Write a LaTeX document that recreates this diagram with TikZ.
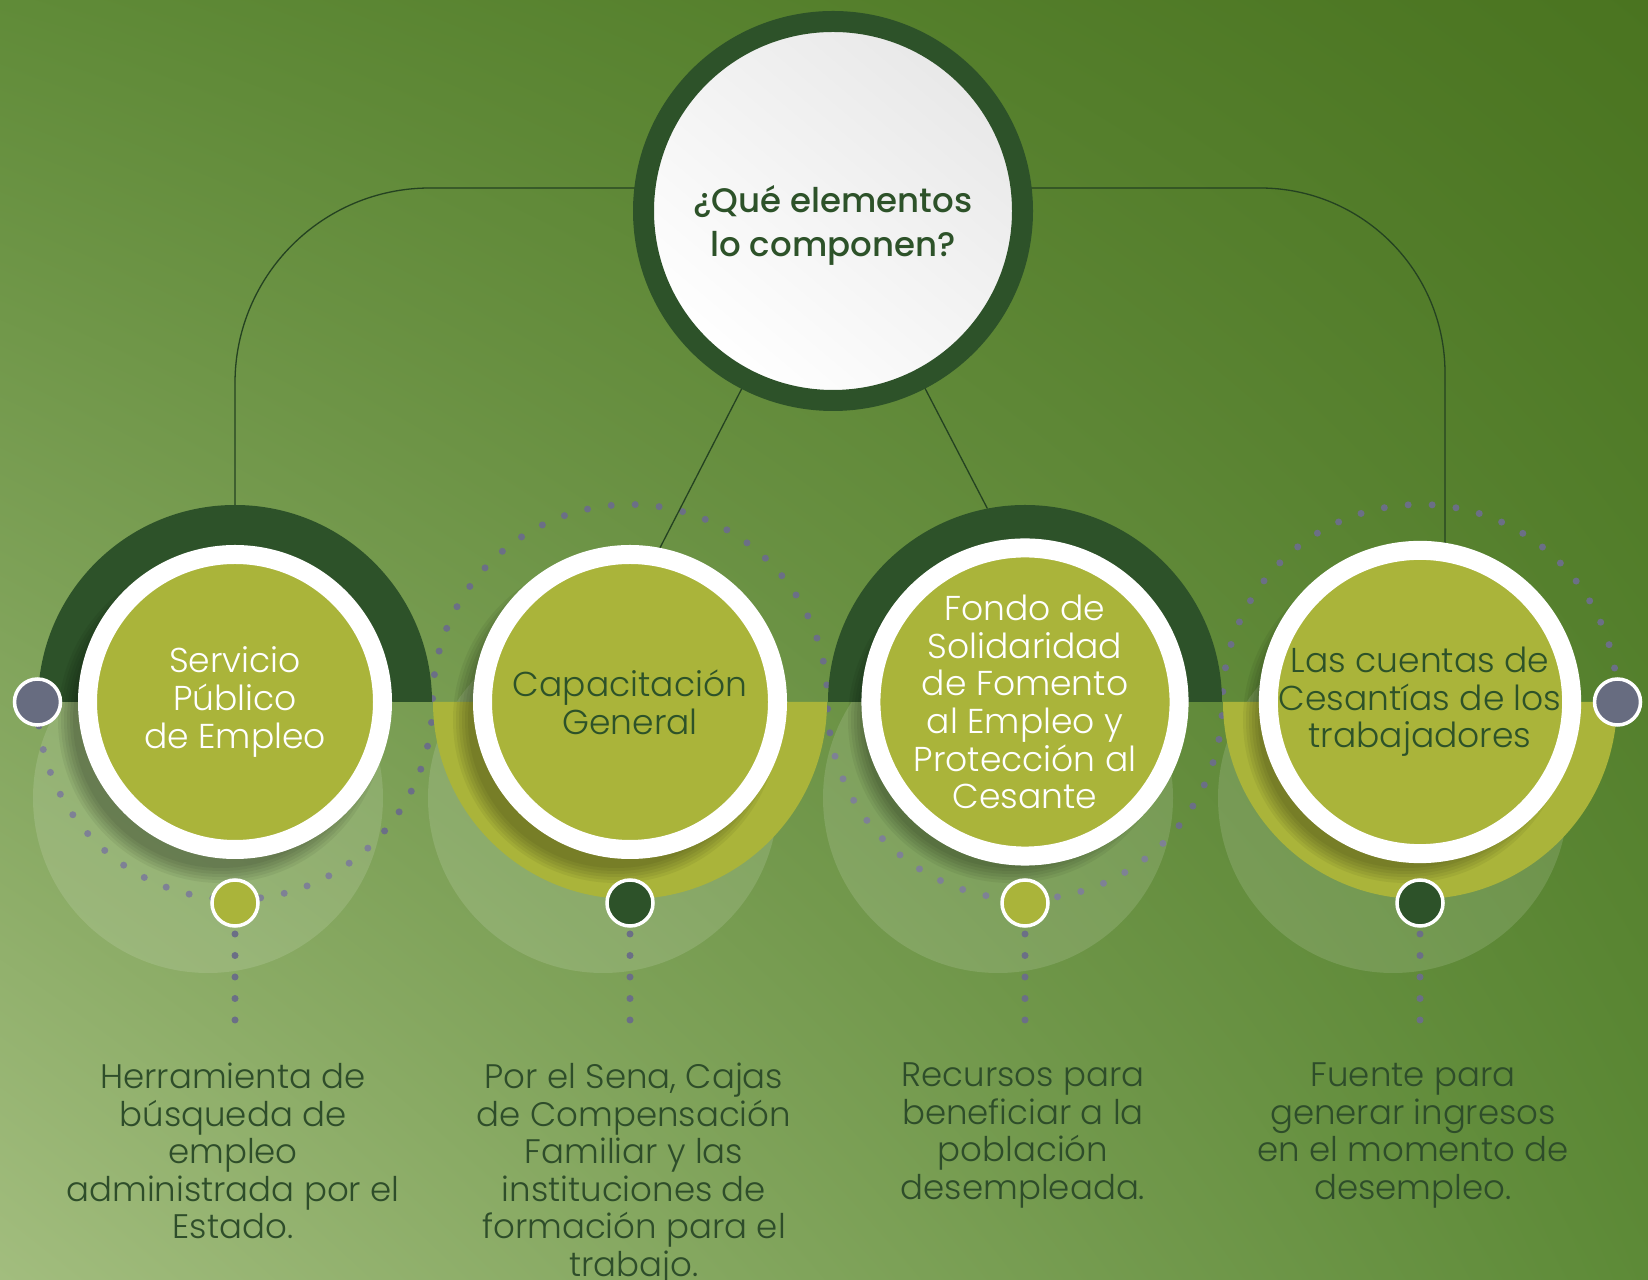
\documentclass[tikz,border=0pt]{standalone}
\usepackage{fontspec}
\setmainfont{Poppins}
\newfontfamily\lightf{Poppins Light}
\newfontfamily\medf{Poppins Medium}
\usetikzlibrary{calc,shadings}
\definecolor{oliveC}{HTML}{AAB43A}
\definecolor{dkg}{HTML}{2D5229}
\definecolor{dotc}{HTML}{6B6F86}
\definecolor{grayc}{HTML}{676C80}
\definecolor{txtc}{HTML}{2E4D2A}
\definecolor{bgUL}{HTML}{608B38}
\definecolor{bgUR}{HTML}{4A7420}
\definecolor{bgLL}{HTML}{A2BD7E}
\definecolor{bgLR}{HTML}{5D8A37}
\pgfdeclarelayer{bg}
\pgfdeclarelayer{lines}
\pgfsetlayers{bg,lines,main}
\begin{document}
\begin{tikzpicture}[x=1pt,y=1pt,
  conn/.style={draw=dkg!80!black, line width=1.3pt},
  dotline/.style={draw=dotc, line width=7pt, line cap=round, dash pattern=on 0pt off 24pt},
  vdots/.style={draw=dotc, line width=7pt, line cap=round, dash pattern=on 0pt off 21.5pt},
  bigc/.style={circle, fill=oliveC, draw=white, line width=19pt, minimum size=295pt, inner sep=0pt, align=center, font=\lightf\fontsize{34.5}{37.6}\selectfont},
  smallc/.style={circle, draw=white, line width=3.5pt, minimum size=46pt, inner sep=0pt},
  desc/.style={anchor=north, align=center, inner sep=0pt, text=txtc, font=\lightf\fontsize{34}{37.5}\selectfont},
  qnode/.style={circle, draw=dkg, line width=21pt, minimum size=379pt, inner sep=0pt, top color=black!9, bottom color=white, shading angle=-40}
]
\useasboundingbox (0,0) rectangle (1648,1279);
\begin{pgfonlayer}{bg}
\shade[upper left=bgUL, upper right=bgUR, lower left=bgLL, lower right=bgLR] (0,0) rectangle (1648,1279);
\end{pgfonlayer}

% translucent blobs
\foreach \cx in {235,630,1025,1420}{
  \fill[white, opacity=0.13] (\cx-27,481) circle[radius=175pt];
}
% dark upper arcs
\fill[dkg] (235-197,577) arc[start angle=180,end angle=0,radius=197pt] -- cycle;
\fill[dkg] (1025-197,577) arc[start angle=180,end angle=0,radius=197pt] -- cycle;
% olive lower half discs
\fill[oliveC] (630-197,577) arc[start angle=180,end angle=360,radius=197pt] -- cycle;
\fill[oliveC] (1420-197,577) arc[start angle=180,end angle=360,radius=197pt] -- cycle;
% shadows
\foreach \cx in {235,630,1025,1420}{
  \foreach \k in {0,...,5}{
    \fill[black, opacity=0.055] (\cx-14,559) circle[radius=148pt+\k*3pt];
  }
}

% top circle
\node[qnode] (q) at (833,1068) {};
\node[text=dkg, align=center, inner sep=0pt, font=\medf\fontsize{34}{44}\selectfont] (qt) at (833,1054) {¿Qué elementos\\lo componen?};

% four circles
\node[bigc, text=white] (c1) at (235,577) {Servicio\\Público\\de Empleo};
\node[bigc, text=dkg] (c2) at (630,577) {Capacitación\\General};
\node[bigc, text=white] (c3) at (1025,577) {Fondo de\\Solidaridad\\de Fomento\\al Empleo y\\Protección al\\Cesante};
\node[bigc, text=dkg] (c4) at (1420,577) {Las cuentas de\\Cesantías de los\\trabajadores};

% side circles
\node[smallc, fill=grayc] (L) at (37.5,577) {};
\node[smallc, fill=grayc] (R) at (1617.5,577) {};

% bottom small circles
\node[smallc, fill=oliveC] (b1) at (235,376) {};
\node[smallc, fill=dkg] (b2) at (630,376) {};
\node[smallc, fill=oliveC] (b3) at (1025,376) {};
\node[smallc, fill=dkg] (b4) at (1420,376) {};

% dotted wave
\begin{pgfonlayer}{lines}
\draw[dotline] (L.center) arc[start angle=180,end angle=360,radius=197.5pt]
  arc[start angle=180,end angle=0,radius=197.5pt]
  arc[start angle=180,end angle=360,radius=197.5pt]
  arc[start angle=180,end angle=0,radius=197.5pt];
% connectors
\coordinate (c4top) at ($(c4.center)+(25,0)$);
\draw[conn, rounded corners=195pt] ($(q.center)+(0,23)$) -| (c1.center);
\draw[conn, rounded corners=185pt] ($(q.center)+(0,23)$) -| (c4top);
\draw[conn] (q.center) -- (c2.79);
\draw[conn] (q.center) -- ($(c3.center)+(101:197pt)$);
\end{pgfonlayer}

% vertical dotted lines
\foreach \i in {1,2,3,4}{
  \coordinate (e\i) at ($(b\i.center)+(0,-137)$);
  \draw[vdots] ($(b\i.center)+(0,-31)$) -- (e\i);
}

% descriptions
\node[desc] (t1) at (233,216) {Herramienta de\\búsqueda de\\empleo\\administrada por el\\Estado.};
\node[desc] (t2) at (634,216) {Por el Sena, Cajas\\de Compensación\\Familiar y las\\instituciones de\\formación para el\\trabajo.};
\node[desc] (t3) at (1023,216) {Recursos para\\beneficiar a la\\población\\desempleada.};
\node[desc] (t4) at (1413,216) {Fuente para\\generar ingresos\\en el momento de\\desempleo.};
\end{tikzpicture}
\end{document}
